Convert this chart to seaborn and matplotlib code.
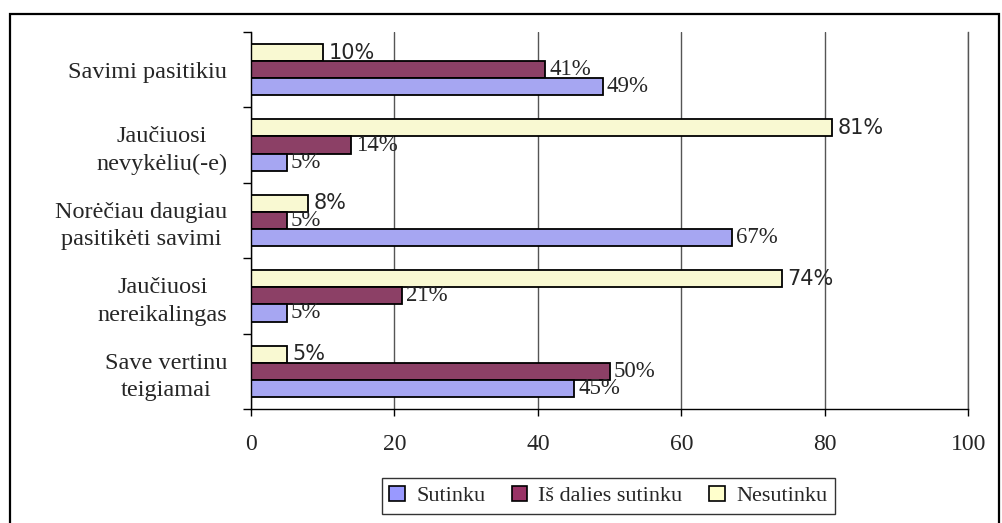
import numpy as np
import pandas as pd
import matplotlib
matplotlib.use('Agg')
import matplotlib.pyplot as plt
from matplotlib.patches import Patch, Rectangle
import seaborn as sns

# data
categories = ['Savimi pasitikiu', 'Jaučiuosi\nnevykėliu(-e)',
              'Norėčiau daugiau\npasitikėti savimi', 'Jaučiuosi\nnereikalingas',
              'Save vertinu\nteigiamai']
sutinku = [49, 5, 67, 5, 45]
is_dalies = [41, 14, 5, 21, 50]
nesutinku = [10, 81, 8, 74, 5]
series = ['Sutinku', 'Iš dalies sutinku', 'Nesutinku']
colors = {'Sutinku': '#9999FF', 'Iš dalies sutinku': '#993366', 'Nesutinku': '#FFFFCC'}
x_ticks = [0, 20, 40, 60, 80, 100]

df = pd.DataFrame({
    'category': categories * 3,
    'series': ['Sutinku'] * 5 + ['Iš dalies sutinku'] * 5 + ['Nesutinku'] * 5,
    'value': sutinku + is_dalies + nesutinku,
})

sns.set_style('white')
plt.rcParams['font.family'] = ['Liberation Serif', 'DejaVu Serif']

fig = plt.figure(figsize=(10.02, 5.23), dpi=100)
ax = fig.add_axes([0.2505, 0.218, 0.716, 0.721])

# top to bottom within a group: Nesutinku, Iš dalies, Sutinku
hue_order = ['Nesutinku', 'Iš dalies sutinku', 'Sutinku']
sns.barplot(data=df, x='value', y='category', hue='series', hue_order=hue_order,
            order=categories, orient='h', palette=colors, width=0.68, gap=0,
            edgecolor='black', linewidth=1.3, errorbar=None, legend=False, ax=ax)

for cont, name in zip(ax.containers, hue_order):
    vals = df[df.series == name].set_index('category').loc[categories, 'value']
    labs = [f'{v}%' for v in vals]
    if name == 'Nesutinku':
        ax.bar_label(cont, labels=labs, padding=4, fontsize=15,
                     family=['DejaVu Sans'])
    else:
        ax.bar_label(cont, labels=labs, padding=3, fontsize=16.5)

ax.set_xlim(0, 100)
ax.set_ylim(4.5, -0.5)
ax.set_xticks(x_ticks)
ax.set_xticklabels([str(t) for t in x_ticks], fontsize=17)
ax.set_yticks(range(len(categories)))
ax.set_yticklabels(categories, fontsize=17.5)
for t in ax.get_yticklabels():
    t.set_multialignment('center')
    t.set_linespacing(1.4)
ax.set_yticks(np.arange(-0.5, 5, 1), minor=True)
ax.tick_params(axis='y', which='major', length=0, pad=17)
ax.tick_params(axis='y', which='minor', length=6, width=1, color='black', direction='out', left=True)
ax.tick_params(axis='x', which='major', length=5, width=1, color='black', direction='out',
               bottom=True, pad=13)
ax.set_xlabel('')
ax.set_ylabel('')

ax.grid(axis='x', color='#555555', linewidth=1)
ax.set_axisbelow(True)
ax.spines['top'].set_visible(False)
ax.spines['right'].set_color('#555555')
ax.spines['right'].set_linewidth(1)
for s in ['left', 'bottom']:
    ax.spines[s].set_color('black')
    ax.spines[s].set_linewidth(1)

# outer frame of the chart area
fig.patches.append(Rectangle((0.010, -0.05), 0.987, 1.023, transform=fig.transFigure,
                             fill=False, edgecolor='black', linewidth=1.6))

handles = [Patch(facecolor=colors[s], edgecolor='black', linewidth=1.2, label=s) for s in series]
leg = fig.legend(handles=handles, loc='center', bbox_to_anchor=(0.607, 0.052), ncol=3,
                 fontsize=16, frameon=True, fancybox=False, handlelength=0.7,
                 handleheight=0.7, handletextpad=0.5, columnspacing=1.2, borderpad=0.35)
leg.get_frame().set_edgecolor('black')
leg.get_frame().set_linewidth(1)

fig.savefig('out.png', dpi=100)
